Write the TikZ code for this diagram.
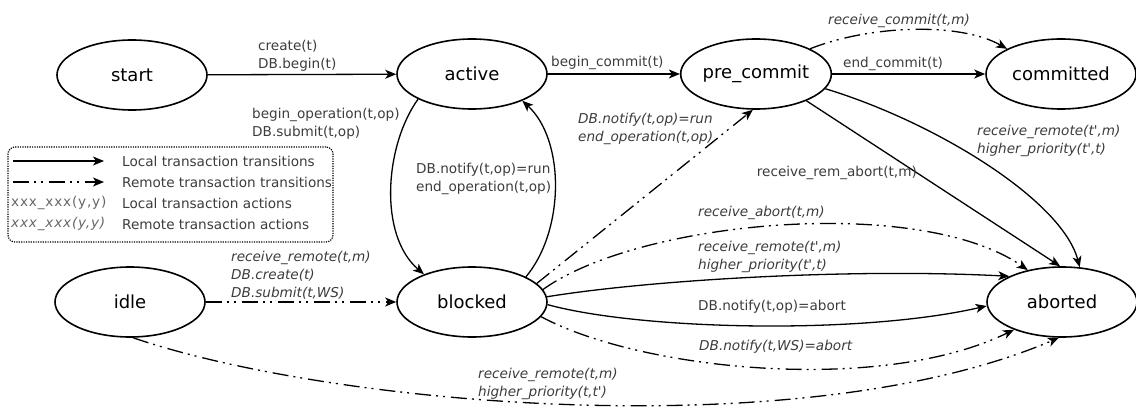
\documentclass[tikz,border=0pt]{standalone}
\usepackage{fontspec}
\setmainfont{DejaVu Sans}
\usetikzlibrary{shapes.geometric,arrows.meta}

\definecolor{lblgray}{HTML}{3C3C3C}
\tikzset{
  state/.style={ellipse, draw, line width=1.6pt, minimum width=150pt,
    minimum height=70pt, inner sep=0pt, font=\fontsize{18}{22}\selectfont},
  tr/.style={line width=1.3pt, -{Stealth[length=11pt,width=9pt,inset=3pt]}},
  local/.style={tr},
  remote/.style={tr, dash pattern=on 16pt off 5pt on 2pt off 5pt on 2pt off 6pt},
  lbl/.style={inner sep=0pt, anchor=west, align=left, text=lblgray,
    font=\fontsize{13.6}{18}\selectfont},
  rlbl/.style={lbl, font=\fontsize{13.6}{18}\selectfont\itshape},
  sample/.style={text=black!60},
  legendbox/.style={draw, line width=1.2pt, dash pattern=on 1.2pt off 1.2pt,
    rounded corners=7pt, minimum width=325pt, minimum height=95pt, inner sep=0pt},
}

\begin{document}
\begin{tikzpicture}[x=1pt,y=-1pt]
\useasboundingbox (0,0) rectangle (1136,412);

% states
\node[state] (start)     at (132,75)  {start};
\node[state] (active)    at (472,74)  {active};
\node[state] (precommit) at (756,74)  {pre\_commit};
\node[state] (committed) at (1061,74) {committed};
\node[state] (idle)      at (130,302) {idle};
\node[state] (blocked)   at (472,302) {blocked};
\node[state] (aborted)   at (1062,302) {aborted};

% local transitions
\draw[local] (start) -- (active);
\draw[local] (active) -- (precommit);
\draw[local] (precommit) -- (committed);
\draw[local] (active.205) .. controls (385,145) and (378,235) .. (blocked.150);
\draw[local] (blocked.25) .. controls (565,230) and (565,140) .. (active.-28);
\draw[local] (precommit.-28) -- (aborted.93);
\draw[local] (precommit.-12) .. controls (935,122) and (1062,200) .. (aborted.63);
\draw[local] (blocked.4) .. controls (650,280) and (850,268) .. (aborted.154);
\draw[local] (blocked.-2) .. controls (640,330) and (860,335) .. (aborted.183);

% remote transitions
\draw[remote] (precommit.25) .. controls (870,25) and (960,22) .. (committed.155);
\draw[remote] (blocked.16) -- (precommit.-95);
\draw[remote] (blocked.10) .. controls (640,220) and (920,195) .. (aborted.137);
\draw[remote] (blocked.-12) .. controls (640,370) and (880,395) .. (aborted.210);
\draw[remote] (idle) -- (blocked);
\draw[remote] (idle.-85) .. controls (330,405) and (800,448) .. (aborted.-95);

% transition labels
\node[lbl]  (lb1)  at (258,56)  {create(t)\\DB.begin(t)};
\node[lbl]  (lb2)  at (551,63)  {begin\_commit(t)};
\node[lbl]  (lb3)  at (843,64)  {end\_commit(t)};
\node[rlbl] (lb4)  at (828,21)  {receive\_commit(t,m)};
\node[lbl]  (lb5)  at (252,124) {begin\_operation(t,op)\\DB.submit(t,op)};
\node[lbl]  (lb6)  at (416,179) {DB.notify(t,op)=run\\end\_operation(t,op)};
\node[rlbl] (lb7)  at (578,129) {DB.notify(t,op)=run\\end\_operation(t,op)};
\node[lbl, anchor=east] (lb8) at (917,173) {receive\_rem\_abort(t,m)};
\node[rlbl] (lb9)  at (977,141) {receive\_remote(t\textquotesingle,m)\\higher\_priority(t\textquotesingle,t)};
\node[rlbl] (lb10) at (698,213) {receive\_abort(t,m)};
\node[rlbl] (lb11) at (698,257) {receive\_remote(t\textquotesingle,m)\\higher\_priority(t\textquotesingle,t)};
\node[lbl]  (lb12) at (698,307) {DB.notify(t,op)=abort};
\node[rlbl] (lb13) at (699,347) {DB.notify(t,WS)=abort};
\node[rlbl] (lb14) at (478,384) {receive\_remote(t,m)\\higher\_priority(t,t\textquotesingle)};
\node[rlbl] (lb15) at (231,275) {receive\_remote(t,m)\\DB.create(t)\\DB.submit(t,WS)};

% legend
\node[legendbox] (legend) at (170.5,194.5) {};
\coordinate (ls1) at (13,161);  \coordinate (le1) at (104,161);
\coordinate (ls2) at (13,182);  \coordinate (le2) at (104,182);
\draw[local]  (ls1) -- (le1);
\draw[remote] (ls2) -- (le2);
\node[lbl] (lg1) at (122,161) {Local transaction transitions};
\node[lbl] (lg2) at (122,182) {Remote transaction transitions};
\node[lbl, sample]  (lg3s) at (11,203) {\addfontfeature{LetterSpace=6}xxx\_xxx(y,y)};
\node[lbl] (lg3) at (122,203) {Local transaction actions};
\node[rlbl, sample] (lg4s) at (11,224) {\addfontfeature{LetterSpace=6}xxx\_xxx(y,y)};
\node[lbl] (lg4) at (122,224) {Remote transaction actions};
\end{tikzpicture}
\end{document}
